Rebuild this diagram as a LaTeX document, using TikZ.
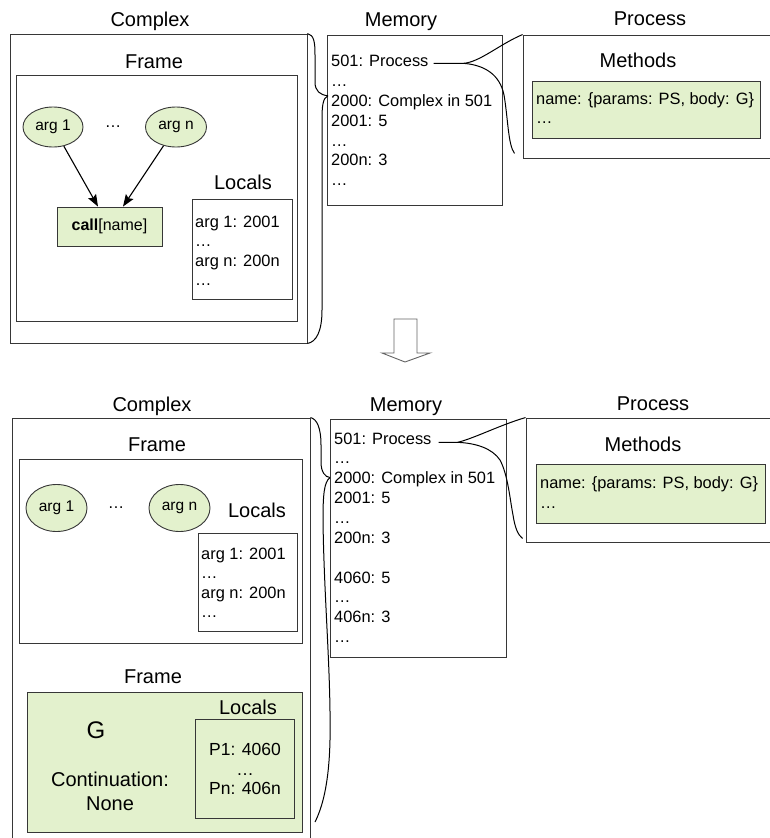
\documentclass[tikz,border=0pt]{standalone}
\usepackage{fontspec}
\setmainfont{Liberation Sans}
\usetikzlibrary{arrows.meta,fit,shapes.geometric}
\definecolor{leaf}{RGB}{227,241,205}
\definecolor{edge}{RGB}{55,55,55}
\definecolor{hollow}{RGB}{100,100,100}

\begin{document}
\begin{tikzpicture}[x=1pt,y=-1pt,
  box/.style={draw=edge, line width=0.9pt, inner sep=0pt},
  greenbox/.style={box, fill=leaf},
  head/.style={font=\fontsize{20}{24}\selectfont, anchor=base, inner sep=0pt},
  entry/.style={font=\fontsize{16.4}{20}\selectfont, anchor=base west, inner sep=1pt},
  argnode/.style={ellipse, draw=edge, fill=leaf, line width=0.9pt, inner sep=0pt,
                  font=\fontsize{15.5}{18}\selectfont},
  gap/.style={font=\fontsize{16.4}{20}\selectfont, inner sep=0pt},
  link/.style={draw=black, line width=1pt},
  flow/.style={draw=black, line width=1.1pt, -{Stealth[length=12pt,width=9pt,inset=2pt]}},
]
\useasboundingbox (0,0) rectangle (770,838);
\clip (0,0) rectangle (770,838);
\fill[white] (0,0) rectangle (770,838);

% ================= state before the call =================
\node[head] (hc1) at (150,26) {Complex};
\node[head] (hm1) at (401,26) {Memory};
\node[head] (hp1) at (650,25) {Process};

% Complex object with its frame
\node[box, fit={(10,34) (307,343)}] (cx1) {};
\node[head] (hf1) at (154,68) {Frame};
\node[box, fit={(16,75) (297,321)}] (fr1) {};
\node[argnode, minimum width=60pt, minimum height=40pt] (a1) at (53,127) {arg 1};
\node[gap] (d1) at (113,127) {…};
\node[argnode, minimum width=61pt, minimum height=40pt] (an) at (176,127) {arg n};
\node[greenbox, minimum width=105pt, minimum height=39pt,
      font=\fontsize{16}{19}\selectfont] (call1) at (109.5,226.5) {\textbf{call}[name]};
\draw[flow] (a1) -- ([xshift=-11.5pt]call1.north);
\draw[flow] (an) -- ([xshift=13.5pt]call1.north);

\node[head] (hl1) at (243,189) {Locals};
\node[box, fit={(192,199) (292,299)}] (lc1) {};
\node[entry] (l11) at (194,227) {arg 1: 2001};
\node[entry] (l12) at (194,246.5) {…};
\node[entry] (l13) at (194,266) {arg n: 200n};
\node[entry] (l14) at (194,285.5) {…};

% Memory
\node[box, fit={(327,35) (502,205)}] (mem1) {};
\node[entry] (m501) at (330,66) {501: Process};
\node[entry] (m1a) at (330,86) {…};
\node[entry] (m2000) at (330,106) {2000: Complex in 501};
\node[entry] (m2001) at (330,126) {2001: 5};
\node[entry] (m1b) at (330,146) {…};
\node[entry] (m200n) at (330,165) {200n: 3};
\node[entry] (m1c) at (330,185) {…};

% Process object
\node[box, fit={(523,35) (790,158)}] (pr1) {};
\node[head] (hme1) at (638,67) {Methods};
\node[greenbox, fit={(532,81) (760,138)}] (mt1) {};
\node[entry] (mt11) at (535,104) {name: \{params: PS, body: G\}};
\node[entry] (mt12) at (535,123) {…};

% brace from the Complex object to its memory cell
\coordinate (tc1) at ([xshift=-2pt,yshift=6pt]m2000.west);
\draw[link] (cx1.north east) .. controls (314,35) and (315,42) .. (315,55)
  -- (315,82) .. controls (315,91) and (320,95) .. (tc1);
\draw[link] (tc1) .. controls (323,98) and (322,105) .. (322,120)
  -- (322,310) .. controls (322,332) and (316,342) .. (cx1.south east);

% brace from the Process cell to the Process object
\coordinate (tp1) at ([xshift=4pt,yshift=-3pt]m501.east);
\coordinate (jp1) at ([xshift=30pt]tp1);
\coordinate (ep1) at ([xshift=-8pt,yshift=5pt]pr1.south west);
\draw[link] (tp1) -- (jp1) .. controls (480,62) and (500,44) .. (pr1.north west);
\draw[link] (jp1) .. controls (485,65) and (500,75) .. (504,95)
  .. controls (508,118) and (508,145) .. (ep1);

% transition arrow
\draw[draw=hollow, fill=white, line width=0.9pt]
  (394,319) -- (417,319) -- (417,353) -- (430,353) -- (405,362)
  -- (382,353) -- (394,353) -- cycle;

% ================= state after the call =================
\node[head] (hc2) at (152,411) {Complex};
\node[head] (hm2) at (406,411) {Memory};
\node[head] (hp2) at (653,410) {Process};

\node[box, fit={(12,418) (310,880)}] (cx2) {};
\node[head] (hf2) at (157,451) {Frame};
\node[box, fit={(19,459) (302,643)}] (fr2) {};
\node[argnode, minimum width=61pt, minimum height=47pt] (b1) at (56.5,508) {arg 1};
\node[gap] (d2) at (116,508) {…};
\node[argnode, minimum width=61pt, minimum height=47pt] (bn) at (179.5,508) {arg n};

\node[head] (hl2) at (257,517) {Locals};
\node[box, fit={(198,533) (297,631)}] (lc2) {};
\node[entry] (l21) at (200,559) {arg 1: 2001};
\node[entry] (l22) at (200,578.5) {…};
\node[entry] (l23) at (200,598) {arg n: 200n};
\node[entry] (l24) at (200,617.5) {…};

% new frame for the body G
\node[head] (hf3) at (153,683) {Frame};
\node[greenbox, fit={(27,692) (302,832)}] (fr3) {};
\node[head] (hl3) at (248,714) {Locals};
\node[box, fit={(195,719) (294,818)}] (lc3) {};
\node[font=\fontsize{17.5}{20}\selectfont, anchor=base, inner sep=0pt] (p1) at (245,755) {P1: 4060};
\node[font=\fontsize{17.5}{20}\selectfont, anchor=base, inner sep=0pt] (p2) at (245,775) {…};
\node[font=\fontsize{17.5}{20}\selectfont, anchor=base, inner sep=0pt] (p3) at (245,794) {Pn: 406n};
\node[font=\fontsize{24}{28}\selectfont, anchor=base, inner sep=0pt] (g) at (96,738) {G};
\node[head] (ct1) at (110,786) {Continuation:};
\node[head] (ct2) at (110,810) {None};

% Memory
\node[box, fit={(330,419) (506,657)}] (mem2) {};
\node[entry] (n501) at (333,444) {501: Process};
\node[entry] (n1a) at (333,463.9) {…};
\node[entry] (n2000) at (333,483.8) {2000: Complex in 501};
\node[entry] (n2001) at (333,503.6) {2001: 5};
\node[entry] (n1b) at (333,523.4) {…};
\node[entry] (n200n) at (333,543.3) {200n: 3};
\node[entry] (n4060) at (333,583) {4060: 5};
\node[entry] (n1c) at (333,602.8) {…};
\node[entry] (n406n) at (333,622.7) {406n: 3};
\node[entry] (n1d) at (333,642.5) {…};

% Process object
\node[box, fit={(526,418) (790,542)}] (pr2) {};
\node[head] (hme2) at (643,451) {Methods};
\node[greenbox, fit={(536,464) (765,523)}] (mt2) {};
\node[entry] (mt21) at (539,488) {name: \{params: PS, body: G\}};
\node[entry] (mt22) at (539,508) {…};

% brace from the Complex object to its memory cell
\coordinate (tc2) at ([xshift=-3pt,yshift=2pt]n2000.west);
\coordinate (ec2) at (315,822);
\draw[link] (cx2.north east) .. controls (317,419) and (321,428) .. (321,445)
  -- (321,462) .. controls (321,472) and (325,477) .. (tc2);
\draw[link] (tc2) .. controls (324,482) and (323,495) .. (323,520)
  .. controls (324,600) and (331,670) .. (330,740)
  .. controls (329,785) and (322,808) .. (ec2);

% brace from the Process cell to the Process object
\coordinate (tp2) at ([xshift=6pt,yshift=-4pt]n501.east);
\coordinate (jp2) at ([xshift=19pt]tp2);
\coordinate (ep2) at ([xshift=-3pt,yshift=4pt]pr2.south west);
\draw[link] (tp2) -- (jp2) .. controls (475,438) and (500,425) .. (pr2.north west);
\draw[link] (jp2) .. controls (475,443) and (492,448) .. (500,460)
  .. controls (508,475) and (510,500) .. (513,515)
  .. controls (515,528) and (518,535) .. (ep2);
\end{tikzpicture}
\end{document}
